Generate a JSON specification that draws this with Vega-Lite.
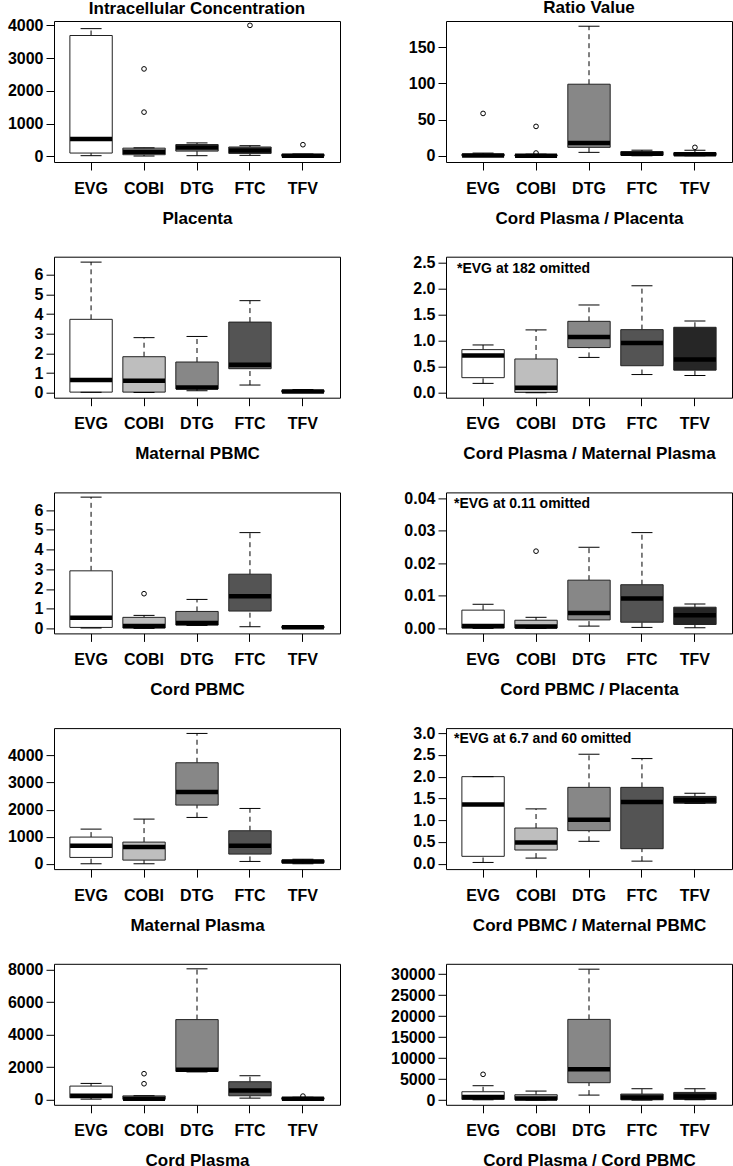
{
"$schema": "https://vega.github.io/schema/vega-lite/v6.json",
"background": "white",
"padding": {"left": 6, "top": -2, "right": 2, "bottom": 0},
"columns": 2,
"spacing": {"row": 94.7, "column": 106},
"bounds": "flush",
"datasets": {
"boxes": [
{"panel":"p1","drug":"EVG","lo":20,"q1":100,"med":530,"q3":3690,"hi":3900},
{"panel":"p1","drug":"COBI","lo":10,"q1":50,"med":140,"q3":250,"hi":260},
{"panel":"p1","drug":"DTG","lo":20,"q1":160,"med":270,"q3":360,"hi":410},
{"panel":"p1","drug":"FTC","lo":30,"q1":90,"med":175,"q3":285,"hi":325},
{"panel":"p1","drug":"TFV","lo":0,"q1":5,"med":15,"q3":60,"hi":70},
{"panel":"p2","drug":"EVG","lo":0,"q1":0.2,"med":0.8,"q3":2.5,"hi":4},
{"panel":"p2","drug":"COBI","lo":0,"q1":0.1,"med":0.4,"q3":1.5,"hi":2.5},
{"panel":"p2","drug":"DTG","lo":5,"q1":11.9,"med":18,"q3":99,"hi":179},
{"panel":"p2","drug":"FTC","lo":0.3,"q1":1,"med":3,"q3":6,"hi":8},
{"panel":"p2","drug":"TFV","lo":0.2,"q1":0.8,"med":2.5,"q3":4.5,"hi":7.8},
{"panel":"p3","drug":"EVG","lo":0.02,"q1":0.03,"med":0.65,"q3":3.73,"hi":6.64},
{"panel":"p3","drug":"COBI","lo":0.01,"q1":0.03,"med":0.61,"q3":1.83,"hi":2.8},
{"panel":"p3","drug":"DTG","lo":0.1,"q1":0.19,"med":0.27,"q3":1.56,"hi":2.86},
{"panel":"p3","drug":"FTC","lo":0.39,"q1":1.22,"med":1.42,"q3":3.59,"hi":4.68},
{"panel":"p3","drug":"TFV","lo":0.01,"q1":0.03,"med":0.06,"q3":0.12,"hi":0.16},
{"panel":"p4","drug":"EVG","lo":0.18,"q1":0.29,"med":0.716,"q3":0.83,"hi":0.92},
{"panel":"p4","drug":"COBI","lo":0,"q1":0.006,"med":0.096,"q3":0.65,"hi":1.21},
{"panel":"p4","drug":"DTG","lo":0.68,"q1":0.87,"med":1.074,"q3":1.375,"hi":1.69},
{"panel":"p4","drug":"FTC","lo":0.35,"q1":0.52,"med":0.96,"q3":1.215,"hi":2.06},
{"panel":"p4","drug":"TFV","lo":0.33,"q1":0.435,"med":0.64,"q3":1.26,"hi":1.38},
{"panel":"p5","drug":"EVG","lo":0.02,"q1":0.05,"med":0.54,"q3":2.92,"hi":6.66},
{"panel":"p5","drug":"COBI","lo":0,"q1":0.02,"med":0.12,"q3":0.56,"hi":0.66},
{"panel":"p5","drug":"DTG","lo":0.15,"q1":0.17,"med":0.27,"q3":0.86,"hi":1.47},
{"panel":"p5","drug":"FTC","lo":0.085,"q1":0.88,"med":1.63,"q3":2.75,"hi":4.86},
{"panel":"p5","drug":"TFV","lo":0.01,"q1":0.03,"med":0.06,"q3":0.1,"hi":0.12},
{"panel":"p6","drug":"EVG","lo":0,"q1":0.0001,"med":0.0007,"q3":0.0056,"hi":0.0074},
{"panel":"p6","drug":"COBI","lo":0,"q1":0.0001,"med":0.0006,"q3":0.0025,"hi":0.0034},
{"panel":"p6","drug":"DTG","lo":0.0007,"q1":0.0026,"med":0.0047,"q3":0.0148,"hi":0.0249},
{"panel":"p6","drug":"FTC","lo":0.0003,"q1":0.0019,"med":0.0092,"q3":0.0134,"hi":0.0294},
{"panel":"p6","drug":"TFV","lo":0.0002,"q1":0.0012,"med":0.004,"q3":0.0065,"hi":0.0075},
{"panel":"p7","drug":"EVG","lo":0,"q1":234,"med":665,"q3":985,"hi":1280},
{"panel":"p7","drug":"COBI","lo":0,"q1":135,"med":615,"q3":800,"hi":1650},
{"panel":"p7","drug":"DTG","lo":1711,"q1":2167,"med":2647,"q3":3730,"hi":4813},
{"panel":"p7","drug":"FTC","lo":86,"q1":357,"med":665,"q3":1219,"hi":2043},
{"panel":"p7","drug":"TFV","lo":5,"q1":40,"med":85,"q3":130,"hi":165},
{"panel":"p8","drug":"EVG","lo":0.03,"q1":0.17,"med":1.36,"q3":2.0,"hi":2.0},
{"panel":"p8","drug":"COBI","lo":0.13,"q1":0.315,"med":0.49,"q3":0.82,"hi":1.26},
{"panel":"p8","drug":"DTG","lo":0.515,"q1":0.76,"med":1.008,"q3":1.754,"hi":2.515},
{"panel":"p8","drug":"FTC","lo":0.06,"q1":0.346,"med":1.42,"q3":1.754,"hi":2.415},
{"panel":"p8","drug":"TFV","lo":1.39,"q1":1.39,"med":1.46,"q3":1.546,"hi":1.62},
{"panel":"p9","drug":"EVG","lo":20,"q1":103,"med":227,"q3":825,"hi":990},
{"panel":"p9","drug":"COBI","lo":0,"q1":5,"med":40,"q3":220,"hi":230},
{"panel":"p9","drug":"DTG","lo":1700,"q1":1732,"med":1835,"q3":4928,"hi":8062},
{"panel":"p9","drug":"FTC","lo":82,"q1":227,"med":557,"q3":1093,"hi":1464},
{"panel":"p9","drug":"TFV","lo":0,"q1":10,"med":40,"q3":110,"hi":130},
{"panel":"p10","drug":"EVG","lo":80,"q1":160,"med":718,"q3":1995,"hi":3431},
{"panel":"p10","drug":"COBI","lo":0,"q1":80,"med":400,"q3":1277,"hi":2155},
{"panel":"p10","drug":"DTG","lo":1197,"q1":4150,"med":7342,"q3":19232,"hi":31200},
{"panel":"p10","drug":"FTC","lo":0,"q1":80,"med":640,"q3":1436,"hi":2713},
{"panel":"p10","drug":"TFV","lo":80,"q1":160,"med":878,"q3":1835,"hi":2713}
],
"outliers": [
{"panel":"p1","drug":"COBI","value":2670},
{"panel":"p1","drug":"COBI","value":1350},
{"panel":"p1","drug":"FTC","value":4000},
{"panel":"p1","drug":"TFV","value":355},
{"panel":"p2","drug":"EVG","value":58.7},
{"panel":"p2","drug":"COBI","value":40.8},
{"panel":"p2","drug":"COBI","value":4.1},
{"panel":"p2","drug":"TFV","value":11.9},
{"panel":"p5","drug":"COBI","value":1.76},
{"panel":"p6","drug":"COBI","value":0.0237},
{"panel":"p9","drug":"COBI","value":1588},
{"panel":"p9","drug":"COBI","value":969},
{"panel":"p9","drug":"TFV","value":206},
{"panel":"p10","drug":"EVG","value":6145}
]
},
"concat": [
{"width":286,"height":141,"title":{"text":"Intracellular Concentration"},
"layer":[
{"data":{"name":"boxes"},"transform":[{"filter":"datum.panel === 'p1'"}],
"encoding":{"x":{"field":"drug","type":"nominal","scale":{"domain":["EVG","COBI","DTG","FTC","TFV"],"paddingInner":0,"paddingOuter":0.2},"axis":{"title":"Placenta"}}},
"layer":[
{"mark":{"type":"rule","strokeDash":[5,4],"color":"black"},"encoding":{"y":{"field":"q3","type":"quantitative","title":null,"scale":{"domain":[-173,4133],"nice":false,"zero":false},"axis":{"values":[0,1000,2000,3000,4000],"format":"d","tickCount":50}},"y2":{"field":"hi"}}},
{"mark":{"type":"rule","strokeDash":[5,4],"color":"black"},"encoding":{"y":{"field":"lo","type":"quantitative","title":null},"y2":{"field":"q1"}}},
{"mark":{"type":"bar","width":{"band":0.8},"stroke":"#222","strokeWidth":1},"encoding":{"y":{"field":"q1","type":"quantitative","title":null},"y2":{"field":"q3"},"fill":{"field":"drug","type":"nominal","scale":{"domain":["EVG","COBI","DTG","FTC","TFV"],"range":["#ffffff","#bebebe","#878787","#545454","#262626"]},"legend":null}}},
{"mark":{"type":"tick","size":42,"thickness":4.5,"color":"black","opacity":1},"encoding":{"y":{"field":"med","type":"quantitative","title":null}}},
{"mark":{"type":"tick","size":21,"thickness":1,"color":"black","opacity":1},"encoding":{"y":{"field":"hi","type":"quantitative","title":null}}},
{"mark":{"type":"tick","size":21,"thickness":1,"color":"black","opacity":1},"encoding":{"y":{"field":"lo","type":"quantitative","title":null}}}
]},
{"data":{"name":"outliers"},"transform":[{"filter":"datum.panel === 'p1'"}],"mark":{"type":"point","shape":"circle","filled":false,"size":22,"color":"black","strokeWidth":1,"opacity":1},"encoding":{"x":{"field":"drug","type":"nominal"},"y":{"field":"value","type":"quantitative","title":null,"scale":{"domain":[-173,4133],"nice":false,"zero":false},"axis":{"values":[0,1000,2000,3000,4000],"format":"d","tickCount":50}}}}
]},
{"width":286,"height":141,"title":{"text":"Ratio Value","offset":4},
"layer":[
{"data":{"name":"boxes"},"transform":[{"filter":"datum.panel === 'p2'"}],
"encoding":{"x":{"field":"drug","type":"nominal","scale":{"domain":["EVG","COBI","DTG","FTC","TFV"],"paddingInner":0,"paddingOuter":0.2},"axis":{"title":"Cord Plasma / Placenta"}}},
"layer":[
{"mark":{"type":"rule","strokeDash":[5,4],"color":"black"},"encoding":{"y":{"field":"q3","type":"quantitative","title":null,"scale":{"domain":[-8.3,186.2],"nice":false,"zero":false},"axis":{"values":[0,50,100,150],"format":"d","tickCount":50}},"y2":{"field":"hi"}}},
{"mark":{"type":"rule","strokeDash":[5,4],"color":"black"},"encoding":{"y":{"field":"lo","type":"quantitative","title":null},"y2":{"field":"q1"}}},
{"mark":{"type":"bar","width":{"band":0.8},"stroke":"#222","strokeWidth":1},"encoding":{"y":{"field":"q1","type":"quantitative","title":null},"y2":{"field":"q3"},"fill":{"field":"drug","type":"nominal","scale":{"domain":["EVG","COBI","DTG","FTC","TFV"],"range":["#ffffff","#bebebe","#878787","#545454","#262626"]},"legend":null}}},
{"mark":{"type":"tick","size":42,"thickness":4.5,"color":"black","opacity":1},"encoding":{"y":{"field":"med","type":"quantitative","title":null}}},
{"mark":{"type":"tick","size":21,"thickness":1,"color":"black","opacity":1},"encoding":{"y":{"field":"hi","type":"quantitative","title":null}}},
{"mark":{"type":"tick","size":21,"thickness":1,"color":"black","opacity":1},"encoding":{"y":{"field":"lo","type":"quantitative","title":null}}}
]},
{"data":{"name":"outliers"},"transform":[{"filter":"datum.panel === 'p2'"}],"mark":{"type":"point","shape":"circle","filled":false,"size":22,"color":"black","strokeWidth":1,"opacity":1},"encoding":{"x":{"field":"drug","type":"nominal"},"y":{"field":"value","type":"quantitative","title":null,"scale":{"domain":[-8.3,186.2],"nice":false,"zero":false},"axis":{"values":[0,50,100,150],"format":"d","tickCount":50}}}}
]},
{"width":286,"height":141,
"layer":[
{"data":{"name":"boxes"},"transform":[{"filter":"datum.panel === 'p3'"}],
"encoding":{"x":{"field":"drug","type":"nominal","scale":{"domain":["EVG","COBI","DTG","FTC","TFV"],"paddingInner":0,"paddingOuter":0.2},"axis":{"title":"Maternal PBMC"}}},
"layer":[
{"mark":{"type":"rule","strokeDash":[5,4],"color":"black"},"encoding":{"y":{"field":"q3","type":"quantitative","title":null,"scale":{"domain":[-0.254,6.915],"nice":false,"zero":false},"axis":{"values":[0,1,2,3,4,5,6],"format":"d","tickCount":50}},"y2":{"field":"hi"}}},
{"mark":{"type":"rule","strokeDash":[5,4],"color":"black"},"encoding":{"y":{"field":"lo","type":"quantitative","title":null},"y2":{"field":"q1"}}},
{"mark":{"type":"bar","width":{"band":0.8},"stroke":"#222","strokeWidth":1},"encoding":{"y":{"field":"q1","type":"quantitative","title":null},"y2":{"field":"q3"},"fill":{"field":"drug","type":"nominal","scale":{"domain":["EVG","COBI","DTG","FTC","TFV"],"range":["#ffffff","#bebebe","#878787","#545454","#262626"]},"legend":null}}},
{"mark":{"type":"tick","size":42,"thickness":4.5,"color":"black","opacity":1},"encoding":{"y":{"field":"med","type":"quantitative","title":null}}},
{"mark":{"type":"tick","size":21,"thickness":1,"color":"black","opacity":1},"encoding":{"y":{"field":"hi","type":"quantitative","title":null}}},
{"mark":{"type":"tick","size":21,"thickness":1,"color":"black","opacity":1},"encoding":{"y":{"field":"lo","type":"quantitative","title":null}}}
]},
{"data":{"name":"outliers"},"transform":[{"filter":"datum.panel === 'p3'"}],"mark":{"type":"point","shape":"circle","filled":false,"size":22,"color":"black","strokeWidth":1,"opacity":1},"encoding":{"x":{"field":"drug","type":"nominal"},"y":{"field":"value","type":"quantitative","title":null,"scale":{"domain":[-0.254,6.915],"nice":false,"zero":false},"axis":{"values":[0,1,2,3,4,5,6],"format":"d","tickCount":50}}}}
]},
{"width":286,"height":141,"title":{"text":"*EVG at 182 omitted","anchor":"start","frame":"group","fontSize":14,"offset":-21,"dx":11},
"layer":[
{"data":{"name":"boxes"},"transform":[{"filter":"datum.panel === 'p4'"}],
"encoding":{"x":{"field":"drug","type":"nominal","scale":{"domain":["EVG","COBI","DTG","FTC","TFV"],"paddingInner":0,"paddingOuter":0.2},"axis":{"title":"Cord Plasma / Maternal Plasma"}}},
"layer":[
{"mark":{"type":"rule","strokeDash":[5,4],"color":"black"},"encoding":{"y":{"field":"q3","type":"quantitative","title":null,"scale":{"domain":[-0.096,2.62],"nice":false,"zero":false},"axis":{"values":[0,0.5,1,1.5,2,2.5],"format":".1f","tickCount":50}},"y2":{"field":"hi"}}},
{"mark":{"type":"rule","strokeDash":[5,4],"color":"black"},"encoding":{"y":{"field":"lo","type":"quantitative","title":null},"y2":{"field":"q1"}}},
{"mark":{"type":"bar","width":{"band":0.8},"stroke":"#222","strokeWidth":1},"encoding":{"y":{"field":"q1","type":"quantitative","title":null},"y2":{"field":"q3"},"fill":{"field":"drug","type":"nominal","scale":{"domain":["EVG","COBI","DTG","FTC","TFV"],"range":["#ffffff","#bebebe","#878787","#545454","#262626"]},"legend":null}}},
{"mark":{"type":"tick","size":42,"thickness":4.5,"color":"black","opacity":1},"encoding":{"y":{"field":"med","type":"quantitative","title":null}}},
{"mark":{"type":"tick","size":21,"thickness":1,"color":"black","opacity":1},"encoding":{"y":{"field":"hi","type":"quantitative","title":null}}},
{"mark":{"type":"tick","size":21,"thickness":1,"color":"black","opacity":1},"encoding":{"y":{"field":"lo","type":"quantitative","title":null}}}
]},
{"data":{"name":"outliers"},"transform":[{"filter":"datum.panel === 'p4'"}],"mark":{"type":"point","shape":"circle","filled":false,"size":22,"color":"black","strokeWidth":1,"opacity":1},"encoding":{"x":{"field":"drug","type":"nominal"},"y":{"field":"value","type":"quantitative","title":null,"scale":{"domain":[-0.096,2.62],"nice":false,"zero":false},"axis":{"values":[0,0.5,1,1.5,2,2.5],"format":".1f","tickCount":50}}}}
]},
{"width":286,"height":141,
"layer":[
{"data":{"name":"boxes"},"transform":[{"filter":"datum.panel === 'p5'"}],
"encoding":{"x":{"field":"drug","type":"nominal","scale":{"domain":["EVG","COBI","DTG","FTC","TFV"],"paddingInner":0,"paddingOuter":0.2},"axis":{"title":"Cord PBMC"}}},
"layer":[
{"mark":{"type":"rule","strokeDash":[5,4],"color":"black"},"encoding":{"y":{"field":"q3","type":"quantitative","title":null,"scale":{"domain":[-0.254,6.9],"nice":false,"zero":false},"axis":{"values":[0,1,2,3,4,5,6],"format":"d","tickCount":50}},"y2":{"field":"hi"}}},
{"mark":{"type":"rule","strokeDash":[5,4],"color":"black"},"encoding":{"y":{"field":"lo","type":"quantitative","title":null},"y2":{"field":"q1"}}},
{"mark":{"type":"bar","width":{"band":0.8},"stroke":"#222","strokeWidth":1},"encoding":{"y":{"field":"q1","type":"quantitative","title":null},"y2":{"field":"q3"},"fill":{"field":"drug","type":"nominal","scale":{"domain":["EVG","COBI","DTG","FTC","TFV"],"range":["#ffffff","#bebebe","#878787","#545454","#262626"]},"legend":null}}},
{"mark":{"type":"tick","size":42,"thickness":4.5,"color":"black","opacity":1},"encoding":{"y":{"field":"med","type":"quantitative","title":null}}},
{"mark":{"type":"tick","size":21,"thickness":1,"color":"black","opacity":1},"encoding":{"y":{"field":"hi","type":"quantitative","title":null}}},
{"mark":{"type":"tick","size":21,"thickness":1,"color":"black","opacity":1},"encoding":{"y":{"field":"lo","type":"quantitative","title":null}}}
]},
{"data":{"name":"outliers"},"transform":[{"filter":"datum.panel === 'p5'"}],"mark":{"type":"point","shape":"circle","filled":false,"size":22,"color":"black","strokeWidth":1,"opacity":1},"encoding":{"x":{"field":"drug","type":"nominal"},"y":{"field":"value","type":"quantitative","title":null,"scale":{"domain":[-0.254,6.9],"nice":false,"zero":false},"axis":{"values":[0,1,2,3,4,5,6],"format":"d","tickCount":50}}}}
]},
{"width":286,"height":141,"title":{"text":"*EVG at 0.11 omitted","anchor":"start","frame":"group","fontSize":14,"offset":-21,"dx":8},
"layer":[
{"data":{"name":"boxes"},"transform":[{"filter":"datum.panel === 'p6'"}],
"encoding":{"x":{"field":"drug","type":"nominal","scale":{"domain":["EVG","COBI","DTG","FTC","TFV"],"paddingInner":0,"paddingOuter":0.2},"axis":{"title":"Cord PBMC / Placenta"}}},
"layer":[
{"mark":{"type":"rule","strokeDash":[5,4],"color":"black"},"encoding":{"y":{"field":"q3","type":"quantitative","title":null,"scale":{"domain":[-0.00154,0.04174],"nice":false,"zero":false},"axis":{"values":[0,0.01,0.02,0.03,0.04],"format":".2f","tickCount":50}},"y2":{"field":"hi"}}},
{"mark":{"type":"rule","strokeDash":[5,4],"color":"black"},"encoding":{"y":{"field":"lo","type":"quantitative","title":null},"y2":{"field":"q1"}}},
{"mark":{"type":"bar","width":{"band":0.8},"stroke":"#222","strokeWidth":1},"encoding":{"y":{"field":"q1","type":"quantitative","title":null},"y2":{"field":"q3"},"fill":{"field":"drug","type":"nominal","scale":{"domain":["EVG","COBI","DTG","FTC","TFV"],"range":["#ffffff","#bebebe","#878787","#545454","#262626"]},"legend":null}}},
{"mark":{"type":"tick","size":42,"thickness":4.5,"color":"black","opacity":1},"encoding":{"y":{"field":"med","type":"quantitative","title":null}}},
{"mark":{"type":"tick","size":21,"thickness":1,"color":"black","opacity":1},"encoding":{"y":{"field":"hi","type":"quantitative","title":null}}},
{"mark":{"type":"tick","size":21,"thickness":1,"color":"black","opacity":1},"encoding":{"y":{"field":"lo","type":"quantitative","title":null}}}
]},
{"data":{"name":"outliers"},"transform":[{"filter":"datum.panel === 'p6'"}],"mark":{"type":"point","shape":"circle","filled":false,"size":22,"color":"black","strokeWidth":1,"opacity":1},"encoding":{"x":{"field":"drug","type":"nominal"},"y":{"field":"value","type":"quantitative","title":null,"scale":{"domain":[-0.00154,0.04174],"nice":false,"zero":false},"axis":{"values":[0,0.01,0.02,0.03,0.04],"format":".2f","tickCount":50}}}}
]},
{"width":286,"height":141,
"layer":[
{"data":{"name":"boxes"},"transform":[{"filter":"datum.panel === 'p7'"}],
"encoding":{"x":{"field":"drug","type":"nominal","scale":{"domain":["EVG","COBI","DTG","FTC","TFV"],"paddingInner":0,"paddingOuter":0.2},"axis":{"title":"Maternal Plasma"}}},
"layer":[
{"mark":{"type":"rule","strokeDash":[5,4],"color":"black"},"encoding":{"y":{"field":"q3","type":"quantitative","title":null,"scale":{"domain":[-197,5010],"nice":false,"zero":false},"axis":{"values":[0,1000,2000,3000,4000],"format":"d","tickCount":50}},"y2":{"field":"hi"}}},
{"mark":{"type":"rule","strokeDash":[5,4],"color":"black"},"encoding":{"y":{"field":"lo","type":"quantitative","title":null},"y2":{"field":"q1"}}},
{"mark":{"type":"bar","width":{"band":0.8},"stroke":"#222","strokeWidth":1},"encoding":{"y":{"field":"q1","type":"quantitative","title":null},"y2":{"field":"q3"},"fill":{"field":"drug","type":"nominal","scale":{"domain":["EVG","COBI","DTG","FTC","TFV"],"range":["#ffffff","#bebebe","#878787","#545454","#262626"]},"legend":null}}},
{"mark":{"type":"tick","size":42,"thickness":4.5,"color":"black","opacity":1},"encoding":{"y":{"field":"med","type":"quantitative","title":null}}},
{"mark":{"type":"tick","size":21,"thickness":1,"color":"black","opacity":1},"encoding":{"y":{"field":"hi","type":"quantitative","title":null}}},
{"mark":{"type":"tick","size":21,"thickness":1,"color":"black","opacity":1},"encoding":{"y":{"field":"lo","type":"quantitative","title":null}}}
]},
{"data":{"name":"outliers"},"transform":[{"filter":"datum.panel === 'p7'"}],"mark":{"type":"point","shape":"circle","filled":false,"size":22,"color":"black","strokeWidth":1,"opacity":1},"encoding":{"x":{"field":"drug","type":"nominal"},"y":{"field":"value","type":"quantitative","title":null,"scale":{"domain":[-197,5010],"nice":false,"zero":false},"axis":{"values":[0,1000,2000,3000,4000],"format":"d","tickCount":50}}}}
]},
{"width":286,"height":141,"title":{"text":"*EVG at 6.7 and 60 omitted","anchor":"start","frame":"group","fontSize":14,"offset":-21,"dx":8},
"layer":[
{"data":{"name":"boxes"},"transform":[{"filter":"datum.panel === 'p8'"}],
"encoding":{"x":{"field":"drug","type":"nominal","scale":{"domain":["EVG","COBI","DTG","FTC","TFV"],"paddingInner":0,"paddingOuter":0.2},"axis":{"title":"Cord PBMC / Maternal PBMC"}}},
"layer":[
{"mark":{"type":"rule","strokeDash":[5,4],"color":"black"},"encoding":{"y":{"field":"q3","type":"quantitative","title":null,"scale":{"domain":[-0.123,3.115],"nice":false,"zero":false},"axis":{"values":[0,0.5,1,1.5,2,2.5,3],"format":".1f","tickCount":50}},"y2":{"field":"hi"}}},
{"mark":{"type":"rule","strokeDash":[5,4],"color":"black"},"encoding":{"y":{"field":"lo","type":"quantitative","title":null},"y2":{"field":"q1"}}},
{"mark":{"type":"bar","width":{"band":0.8},"stroke":"#222","strokeWidth":1},"encoding":{"y":{"field":"q1","type":"quantitative","title":null},"y2":{"field":"q3"},"fill":{"field":"drug","type":"nominal","scale":{"domain":["EVG","COBI","DTG","FTC","TFV"],"range":["#ffffff","#bebebe","#878787","#545454","#262626"]},"legend":null}}},
{"mark":{"type":"tick","size":42,"thickness":4.5,"color":"black","opacity":1},"encoding":{"y":{"field":"med","type":"quantitative","title":null}}},
{"mark":{"type":"tick","size":21,"thickness":1,"color":"black","opacity":1},"encoding":{"y":{"field":"hi","type":"quantitative","title":null}}},
{"mark":{"type":"tick","size":21,"thickness":1,"color":"black","opacity":1},"encoding":{"y":{"field":"lo","type":"quantitative","title":null}}}
]},
{"data":{"name":"outliers"},"transform":[{"filter":"datum.panel === 'p8'"}],"mark":{"type":"point","shape":"circle","filled":false,"size":22,"color":"black","strokeWidth":1,"opacity":1},"encoding":{"x":{"field":"drug","type":"nominal"},"y":{"field":"value","type":"quantitative","title":null,"scale":{"domain":[-0.123,3.115],"nice":false,"zero":false},"axis":{"values":[0,0.5,1,1.5,2,2.5,3],"format":".1f","tickCount":50}}}}
]},
{"width":286,"height":141,
"layer":[
{"data":{"name":"boxes"},"transform":[{"filter":"datum.panel === 'p9'"}],
"encoding":{"x":{"field":"drug","type":"nominal","scale":{"domain":["EVG","COBI","DTG","FTC","TFV"],"paddingInner":0,"paddingOuter":0.2},"axis":{"title":"Cord Plasma"}}},
"layer":[
{"mark":{"type":"rule","strokeDash":[5,4],"color":"black"},"encoding":{"y":{"field":"q3","type":"quantitative","title":null,"scale":{"domain":[-330,8372],"nice":false,"zero":false},"axis":{"values":[0,2000,4000,6000,8000],"format":"d","tickCount":50}},"y2":{"field":"hi"}}},
{"mark":{"type":"rule","strokeDash":[5,4],"color":"black"},"encoding":{"y":{"field":"lo","type":"quantitative","title":null},"y2":{"field":"q1"}}},
{"mark":{"type":"bar","width":{"band":0.8},"stroke":"#222","strokeWidth":1},"encoding":{"y":{"field":"q1","type":"quantitative","title":null},"y2":{"field":"q3"},"fill":{"field":"drug","type":"nominal","scale":{"domain":["EVG","COBI","DTG","FTC","TFV"],"range":["#ffffff","#bebebe","#878787","#545454","#262626"]},"legend":null}}},
{"mark":{"type":"tick","size":42,"thickness":4.5,"color":"black","opacity":1},"encoding":{"y":{"field":"med","type":"quantitative","title":null}}},
{"mark":{"type":"tick","size":21,"thickness":1,"color":"black","opacity":1},"encoding":{"y":{"field":"hi","type":"quantitative","title":null}}},
{"mark":{"type":"tick","size":21,"thickness":1,"color":"black","opacity":1},"encoding":{"y":{"field":"lo","type":"quantitative","title":null}}}
]},
{"data":{"name":"outliers"},"transform":[{"filter":"datum.panel === 'p9'"}],"mark":{"type":"point","shape":"circle","filled":false,"size":22,"color":"black","strokeWidth":1,"opacity":1},"encoding":{"x":{"field":"drug","type":"nominal"},"y":{"field":"value","type":"quantitative","title":null,"scale":{"domain":[-330,8372],"nice":false,"zero":false},"axis":{"values":[0,2000,4000,6000,8000],"format":"d","tickCount":50}}}}
]},
{"width":286,"height":141,
"layer":[
{"data":{"name":"boxes"},"transform":[{"filter":"datum.panel === 'p10'"}],
"encoding":{"x":{"field":"drug","type":"nominal","scale":{"domain":["EVG","COBI","DTG","FTC","TFV"],"paddingInner":0,"paddingOuter":0.2},"axis":{"title":"Cord Plasma / Cord PBMC"}}},
"layer":[
{"mark":{"type":"rule","strokeDash":[5,4],"color":"black"},"encoding":{"y":{"field":"q3","type":"quantitative","title":null,"scale":{"domain":[-1117,32480],"nice":false,"zero":false},"axis":{"values":[0,5000,10000,15000,20000,25000,30000],"format":"d","tickCount":50}},"y2":{"field":"hi"}}},
{"mark":{"type":"rule","strokeDash":[5,4],"color":"black"},"encoding":{"y":{"field":"lo","type":"quantitative","title":null},"y2":{"field":"q1"}}},
{"mark":{"type":"bar","width":{"band":0.8},"stroke":"#222","strokeWidth":1},"encoding":{"y":{"field":"q1","type":"quantitative","title":null},"y2":{"field":"q3"},"fill":{"field":"drug","type":"nominal","scale":{"domain":["EVG","COBI","DTG","FTC","TFV"],"range":["#ffffff","#bebebe","#878787","#545454","#262626"]},"legend":null}}},
{"mark":{"type":"tick","size":42,"thickness":4.5,"color":"black","opacity":1},"encoding":{"y":{"field":"med","type":"quantitative","title":null}}},
{"mark":{"type":"tick","size":21,"thickness":1,"color":"black","opacity":1},"encoding":{"y":{"field":"hi","type":"quantitative","title":null}}},
{"mark":{"type":"tick","size":21,"thickness":1,"color":"black","opacity":1},"encoding":{"y":{"field":"lo","type":"quantitative","title":null}}}
]},
{"data":{"name":"outliers"},"transform":[{"filter":"datum.panel === 'p10'"}],"mark":{"type":"point","shape":"circle","filled":false,"size":22,"color":"black","strokeWidth":1,"opacity":1},"encoding":{"x":{"field":"drug","type":"nominal"},"y":{"field":"value","type":"quantitative","title":null,"scale":{"domain":[-1117,32480],"nice":false,"zero":false},"axis":{"values":[0,5000,10000,15000,20000,25000,30000],"format":"d","tickCount":50}}}}
]}
],
"config": {
"view": {"stroke": "black", "strokeWidth": 1},
"font": "Liberation Sans",
"axis": {"labelFont": "Liberation Sans", "labelFontSize": 16, "labelFontWeight": "bold", "labelColor": "black", "tickColor": "black", "tickSize": 8, "tickWidth": 1, "domain": false, "grid": false, "labelOverlap": false, "titleFont": "Liberation Sans", "titleFontSize": 17, "titleFontWeight": "bold", "titleColor": "black"},
"axisX": {"labelPadding": 10, "labelAngle": 0, "titleY": 61, "titleBaseline": "alphabetic", "titlePadding": 0},
"axisY": {"labelPadding": 3, "tickCount": 50},
"title": {"font": "Liberation Sans", "fontSize": 17, "fontWeight": "bold", "color": "black", "baseline": "alphabetic", "offset": -1}
}
}
